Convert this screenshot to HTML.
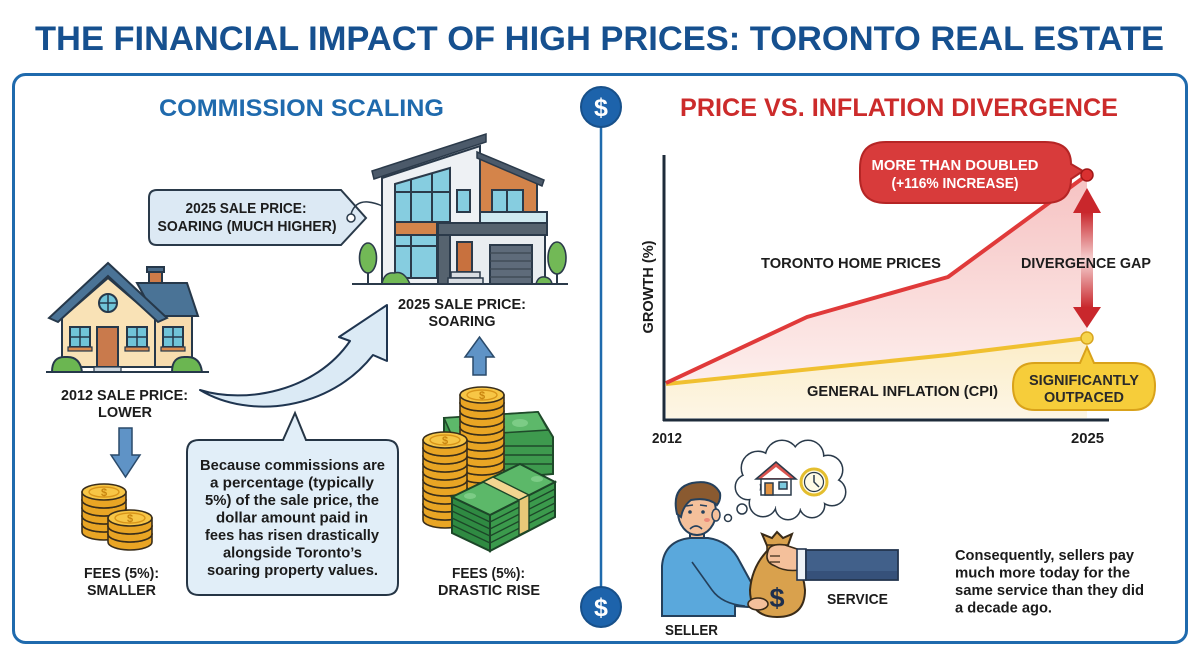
<!DOCTYPE html>
<html><head><meta charset="utf-8">
<style>
html,body{margin:0;padding:0;background:#fff;}
svg{display:block;}
text{font-family:"Liberation Sans",Arial,sans-serif;font-weight:bold;}
</style></head><body>
<svg width="1200" height="655" viewBox="0 0 1200 655" xmlns="http://www.w3.org/2000/svg">
<defs>
 <linearGradient id="pink" gradientUnits="userSpaceOnUse" x1="0" y1="175" x2="0" y2="390">
   <stop offset="0" stop-color="#f6c2c2"/><stop offset="1" stop-color="#fdf0ee"/>
 </linearGradient>
 <linearGradient id="beige" gradientUnits="userSpaceOnUse" x1="0" y1="340" x2="0" y2="420">
   <stop offset="0" stop-color="#fcedc8"/><stop offset="1" stop-color="#fdf6e6"/>
 </linearGradient>
 <linearGradient id="shaft" x1="0" y1="0" x2="0" y2="1">
   <stop offset="0" stop-color="#c8262b"/><stop offset="0.5" stop-color="#f6d3d3"/><stop offset="1" stop-color="#c8262b"/>
 </linearGradient>
 <g id="coin">
   <path d="M-22,0 V8 A22,8 0 0 0 22,8 V0 Z" fill="#e9a524" stroke="#3a2e1a" stroke-width="1.6"/>
   <ellipse cx="0" cy="0" rx="22" ry="8" fill="#f7c646" stroke="#3a2e1a" stroke-width="1.6"/>
 </g>
 <g id="topcoin">
   <use href="#coin"/>
   <ellipse cx="0" cy="0" rx="15" ry="5" fill="none" stroke="#d9951a" stroke-width="1.4"/>
   <text x="0" y="4" font-size="11" text-anchor="middle" fill="#c9850f">$</text>
 </g>
</defs>

<!-- Title -->
<text x="599.5" y="50" font-size="34" fill="#16508f" text-anchor="middle" textLength="1129" lengthAdjust="spacingAndGlyphs">THE FINANCIAL IMPACT OF HIGH PRICES: TORONTO REAL ESTATE</text>

<!-- Frame -->
<rect x="13.5" y="74.5" width="1173" height="568" rx="12" fill="#fff" stroke="#1f6aad" stroke-width="3"/>

<!-- Divider -->
<line x1="601" y1="127" x2="601" y2="587" stroke="#1f6aad" stroke-width="2.5"/>
<circle cx="601" cy="107" r="20" fill="#1d63ab" stroke="#17508a" stroke-width="2"/>
<text x="601" y="116" font-size="25" fill="#fff" text-anchor="middle">$</text>
<circle cx="601" cy="607" r="20" fill="#1d63ab" stroke="#17508a" stroke-width="2"/>
<text x="601" y="616" font-size="25" fill="#fff" text-anchor="middle">$</text>

<!-- LEFT PANEL -->
<text x="301.5" y="116" font-size="24" fill="#1f6aad" text-anchor="middle" textLength="285" lengthAdjust="spacingAndGlyphs">COMMISSION SCALING</text>

<!-- price tag -->
<path d="M157,190 H341 L366,218 L341,245 H157 Q149,245 149,237 V198 Q149,190 157,190 Z" fill="#dce9f4" stroke="#2a3a4a" stroke-width="2"/>
<circle cx="351" cy="218" r="4" fill="#fff" stroke="#2a3a4a" stroke-width="1.5"/>
<path d="M351,214 Q355,201 368,202 Q377,203 384,207" fill="none" stroke="#2a3a4a" stroke-width="1.5"/>
<text x="246" y="213" font-size="15" fill="#1c1c1c" text-anchor="middle" textLength="121" lengthAdjust="spacingAndGlyphs">2025 SALE PRICE:</text>
<text x="247" y="231" font-size="15" fill="#1c1c1c" text-anchor="middle" textLength="179" lengthAdjust="spacingAndGlyphs">SOARING (MUCH HIGHER)</text>

<!-- modern house -->
<g stroke="#2b3a4a" stroke-width="2">
 <line x1="368" y1="262" x2="368" y2="284"/>
 <ellipse cx="368" cy="258" rx="8.5" ry="15" fill="#72b956" stroke-width="1.6"/>
 <line x1="557" y1="262" x2="557" y2="284"/>
 <ellipse cx="557" cy="258" rx="9" ry="16" fill="#72b956" stroke-width="1.6"/>
 <polygon points="382,178 480,146 480,284 382,284" fill="#eef1f4"/>
 <polygon points="480,157 537,181 537,223 480,223" fill="#d4844a"/>
 <polygon points="477,152 544,180 542,186 477,158" fill="#4c5a6a" stroke-width="1.5"/>
 <polygon points="372,171 486,134 486,142 374,179" fill="#4c5a6a" stroke-width="1.5"/>
 <polygon points="395,184 450,168 450,222 395,222" fill="#86cde0"/>
 <line x1="411" y1="180" x2="411" y2="222"/>
 <line x1="432" y1="174" x2="432" y2="222"/>
 <line x1="395" y1="192" x2="450" y2="192"/>
 <rect x="395" y="222" width="42" height="13" fill="#d4844a"/>
 <rect x="395" y="235" width="42" height="43" fill="#86cde0"/>
 <line x1="411" y1="235" x2="411" y2="278"/>
 <line x1="395" y1="246" x2="437" y2="246"/>
 <rect x="457" y="190" width="13" height="22" fill="#86cde0"/>
 <rect x="492" y="190" width="31" height="32" fill="#86cde0"/>
 <line x1="507" y1="190" x2="507" y2="222"/>
 <rect x="480" y="212" width="67" height="11" fill="#cfe9f0"/>
 <rect x="438" y="223" width="109" height="12" fill="#56636f"/>
 <rect x="438" y="235" width="107" height="49" fill="#e9edf0"/>
 <rect x="438" y="235" width="12" height="49" fill="#56636f"/>
 <rect x="457" y="242" width="15" height="30" fill="#c8713e"/>
 <rect x="451" y="272" width="29" height="6" fill="#d8dde2" stroke-width="1.5"/>
 <rect x="448" y="278" width="35" height="6" fill="#d8dde2" stroke-width="1.5"/>
 <rect x="490" y="245" width="42" height="39" fill="#5e6b7a"/>
 <g stroke="#3c4752" stroke-width="1.2"><line x1="490" y1="253" x2="532" y2="253"/><line x1="490" y1="261" x2="532" y2="261"/><line x1="490" y1="269" x2="532" y2="269"/><line x1="490" y1="277" x2="532" y2="277"/></g>
 <path d="M382,284 Q384,272 394,273 Q404,270 410,284 Z" fill="#72b956" stroke-width="1.5"/>
 <path d="M536,284 Q538,276 545,277 Q551,278 552,284 Z" fill="#72b956" stroke-width="1.5"/>
 <line x1="352" y1="284" x2="568" y2="284"/>
</g>
<text x="462" y="309" font-size="15" fill="#1c1c1c" text-anchor="middle" textLength="128" lengthAdjust="spacingAndGlyphs">2025 SALE PRICE:</text>
<text x="462" y="326" font-size="15" fill="#1c1c1c" text-anchor="middle" textLength="67" lengthAdjust="spacingAndGlyphs">SOARING</text>

<!-- old house -->
<g stroke="#26384a" stroke-width="2">
 <rect x="149" y="271" width="13" height="16" fill="#cf7b48"/>
 <rect x="147" y="267" width="17" height="5" fill="#4a6a88"/>
 <polygon points="137,283 187,283 198,316 155,316" fill="#4a7396"/>
 <rect x="155" y="316" width="37" height="51" fill="#f7dcae"/>
 <polygon points="62,318 108,278 155,318 155,367 62,367" fill="#f9e2b6"/>
 <polygon points="49,318 108,263 167,318 158,322 108,276 58,322" fill="#4a7396"/>
 <circle cx="108" cy="303" r="9" fill="#70c4d8"/>
 <line x1="108" y1="294" x2="108" y2="312" stroke-width="1.5"/><line x1="99" y1="303" x2="117" y2="303" stroke-width="1.5"/>
 <rect x="97" y="327" width="21" height="40" fill="#c97a4c"/>
 <rect x="70" y="327" width="20" height="20" fill="#70c4d8"/>
 <rect x="127" y="327" width="20" height="20" fill="#70c4d8"/>
 <rect x="163" y="327" width="20" height="20" fill="#70c4d8"/>
 <g stroke-width="1.5"><line x1="80" y1="327" x2="80" y2="347"/><line x1="70" y1="337" x2="90" y2="337"/>
 <line x1="137" y1="327" x2="137" y2="347"/><line x1="127" y1="337" x2="147" y2="337"/>
 <line x1="173" y1="327" x2="173" y2="347"/><line x1="163" y1="337" x2="183" y2="337"/></g>
 <rect x="68" y="347" width="24" height="4" fill="#d98a4f" stroke-width="1.2"/>
 <rect x="125" y="347" width="24" height="4" fill="#d98a4f" stroke-width="1.2"/>
 <rect x="161" y="347" width="24" height="4" fill="#d98a4f" stroke-width="1.2"/>
 <path d="M52,372 Q52,356 66,357 Q80,356 82,372 Z" fill="#6bb651"/>
 <path d="M172,372 Q172,356 186,357 Q200,356 202,372 Z" fill="#6bb651"/>
 <rect x="94" y="367" width="27" height="5" fill="#cfd8e0" stroke-width="1.2"/>
 <line x1="46" y1="372" x2="209" y2="372"/>
</g>
<text x="124.5" y="400" font-size="15" fill="#1c1c1c" text-anchor="middle" textLength="127" lengthAdjust="spacingAndGlyphs">2012 SALE PRICE:</text>
<text x="125" y="417" font-size="15" fill="#1c1c1c" text-anchor="middle" textLength="54" lengthAdjust="spacingAndGlyphs">LOWER</text>

<!-- curved arrow -->
<path d="M200,390 C245,404 315,392 350,341 L339,337 L387,305 L387,361 L373,355 C330,410 250,420 200,390 Z" fill="#dbeaf5" stroke="#1f3550" stroke-width="2" stroke-linejoin="round"/>

<!-- down arrow -->
<polygon points="119,428 132,428 132,455 140,455 125.5,477 111,455 119,455" fill="#5f93c6" stroke="#2a4a6a" stroke-width="1.5"/>
<!-- up arrow -->
<polygon points="473,375 486,375 486,357 494,357 479.5,337 465,357 473,357" fill="#5f93c6" stroke="#2a4a6a" stroke-width="1.5"/>

<!-- small coins -->
<use href="#coin" x="104" y="524"/><use href="#coin" x="104" y="516"/><use href="#coin" x="104" y="508"/><use href="#coin" x="104" y="500"/><use href="#topcoin" x="104" y="492"/>
<use href="#coin" x="130" y="534"/><use href="#coin" x="130" y="526"/><use href="#topcoin" x="130" y="518"/>
<text x="121.5" y="578" font-size="15" fill="#1c1c1c" text-anchor="middle" textLength="75" lengthAdjust="spacingAndGlyphs">FEES (5%):</text>
<text x="121.5" y="595" font-size="15" fill="#1c1c1c" text-anchor="middle" textLength="69" lengthAdjust="spacingAndGlyphs">SMALLER</text>

<!-- speech bubble -->
<path d="M199,440 H283 L295,413 L306,440 H386 Q398,440 398,452 V583 Q398,595 386,595 H199 Q187,595 187,583 V452 Q187,440 199,440 Z" fill="#e1eef8" stroke="#253545" stroke-width="2"/>
<g font-size="15" fill="#1b1b1b" text-anchor="middle">
<text x="292.5" y="470" textLength="185" lengthAdjust="spacingAndGlyphs">Because commissions are</text>
<text x="292" y="487.5" textLength="164" lengthAdjust="spacingAndGlyphs">a percentage (typically</text>
<text x="292" y="505" textLength="174" lengthAdjust="spacingAndGlyphs">5%) of the sale price, the</text>
<text x="292" y="522.5" textLength="152" lengthAdjust="spacingAndGlyphs">dollar amount paid in</text>
<text x="292" y="540" textLength="174" lengthAdjust="spacingAndGlyphs">fees has risen drastically</text>
<text x="292.5" y="557.5" textLength="139" lengthAdjust="spacingAndGlyphs">alongside Toronto’s</text>
<text x="292.5" y="575" textLength="171" lengthAdjust="spacingAndGlyphs">soaring property values.</text>
</g>

<!-- big money -->
<polygon points="444,418 538,412 553,437 553,474 507,478 462,478 444,445" fill="#3e9a4e" stroke="#1f4a2a" stroke-width="2"/>
<polygon points="444,418 538,412 548,430 452,436" fill="#5db86a" stroke="#1f4a2a" stroke-width="1.6"/>
<ellipse cx="520" cy="423" rx="8" ry="4" fill="#7ccc86"/>
<g stroke="#1f4a2a" stroke-width="1.4"><line x1="505" y1="446" x2="553" y2="446"/><line x1="505" y1="455" x2="553" y2="455"/><line x1="505" y1="464" x2="553" y2="464"/></g>
<use href="#coin" x="482" y="491"/><use href="#coin" x="482" y="483"/><use href="#coin" x="482" y="475"/><use href="#coin" x="482" y="467"/><use href="#coin" x="482" y="459"/><use href="#coin" x="482" y="451"/><use href="#coin" x="482" y="443"/><use href="#coin" x="482" y="435"/><use href="#coin" x="482" y="427"/><use href="#coin" x="482" y="419"/><use href="#coin" x="482" y="411"/><use href="#coin" x="482" y="403"/><use href="#topcoin" x="482" y="395"/>
<use href="#coin" x="445" y="512"/><use href="#coin" x="445" y="504"/><use href="#coin" x="445" y="496"/><use href="#coin" x="445" y="488"/><use href="#coin" x="445" y="480"/><use href="#coin" x="445" y="472"/><use href="#coin" x="445" y="464"/><use href="#coin" x="445" y="456"/><use href="#coin" x="445" y="448"/><use href="#topcoin" x="445" y="440"/>
<g stroke="#1c4628" stroke-width="2">
<polygon points="452,497 490,515 490,551 452,533" fill="#2f8a42"/>
<polygon points="490,515 555,482 555,517 490,551" fill="#3b9a4c"/>
<g stroke-width="1.3"><line x1="452" y1="504" x2="490" y2="522"/><line x1="452" y1="511" x2="490" y2="529"/><line x1="452" y1="518" x2="490" y2="536"/><line x1="452" y1="525" x2="490" y2="543"/>
<line x1="490" y1="522" x2="555" y2="489"/><line x1="490" y1="529" x2="555" y2="496"/><line x1="490" y1="536" x2="555" y2="503"/><line x1="490" y1="543" x2="555" y2="510"/></g>
<polygon points="452,497 520,464 555,482 490,515" fill="#5cb869"/>
<polygon points="483,482 493,477 529,495 519,500" fill="#f2d590" stroke-width="1.4"/>
<polygon points="519,500 529,495 529,530 519,535" fill="#e8c878" stroke-width="1.4"/>
</g>
<ellipse cx="470" cy="496" rx="6" ry="3" fill="#7ccc86"/><ellipse cx="537" cy="479" rx="6" ry="3" fill="#7ccc86"/>
<text x="488.5" y="578" font-size="15" fill="#1c1c1c" text-anchor="middle" textLength="73" lengthAdjust="spacingAndGlyphs">FEES (5%):</text>
<text x="489" y="595" font-size="15" fill="#1c1c1c" text-anchor="middle" textLength="102" lengthAdjust="spacingAndGlyphs">DRASTIC RISE</text>

<!-- RIGHT PANEL -->
<text x="899" y="116" font-size="25" fill="#cc2b2b" text-anchor="middle" textLength="438" lengthAdjust="spacingAndGlyphs">PRICE VS. INFLATION DIVERGENCE</text>

<!-- areas -->
<polygon points="666,383 807,317 948,277 1087,175 1087,338 948,355 666,384" fill="url(#pink)"/>
<polygon points="666,384 948,355 1087,338 1087,418 666,418" fill="url(#beige)"/>

<!-- axes -->
<line x1="664" y1="155" x2="664" y2="421" stroke="#1e2b3a" stroke-width="3"/>
<line x1="663" y1="420" x2="1109" y2="420" stroke="#1e2b3a" stroke-width="3"/>

<!-- lines -->
<polyline points="666,384 948,355 1087,338" fill="none" stroke="#f0c030" stroke-width="4" stroke-linejoin="round"/>
<polyline points="666,383 807,317 948,277 1087,175" fill="none" stroke="#e03a3a" stroke-width="4" stroke-linejoin="round"/>

<!-- red bubble -->
<path d="M886,142 H1045 Q1071,142 1071,164 L1083,171 L1071,179 Q1071,203 1045,203 H886 Q860,203 860,177 V168 Q860,142 886,142 Z" fill="#d83b3b" stroke="#b52525" stroke-width="2"/>
<text x="955" y="170" font-size="15" fill="#fff" text-anchor="middle" textLength="167" lengthAdjust="spacingAndGlyphs">MORE THAN DOUBLED</text>
<text x="955" y="188" font-size="15" fill="#fff" text-anchor="middle" textLength="127" lengthAdjust="spacingAndGlyphs">(+116% INCREASE)</text>
<circle cx="1087" cy="175" r="6" fill="#d93030" stroke="#a01818" stroke-width="1.5"/>

<!-- double arrow -->
<rect x="1081" y="212" width="12" height="96" fill="url(#shaft)"/>
<polygon points="1087,188 1101,213 1073,213" fill="#c9272c"/>
<polygon points="1073,307 1101,307 1087,328" fill="#c9272c"/>

<!-- yellow pill -->
<path d="M1035,363 H1080 L1087,347 L1094,363 H1133 Q1155,363 1155,386 Q1155,410 1133,410 H1035 Q1013,410 1013,386 Q1013,363 1035,363 Z" fill="#f6cd3a" stroke="#d9a21a" stroke-width="2"/>
<circle cx="1087" cy="338" r="6" fill="#f6d44c" stroke="#d8a520" stroke-width="1.5"/>
<text x="1084" y="385" font-size="15" fill="#2a2a2a" text-anchor="middle" textLength="110" lengthAdjust="spacingAndGlyphs">SIGNIFICANTLY</text>
<text x="1084" y="402" font-size="15" fill="#2a2a2a" text-anchor="middle" textLength="80" lengthAdjust="spacingAndGlyphs">OUTPACED</text>

<text x="851" y="268" font-size="15" fill="#1c1c1c" text-anchor="middle" textLength="180" lengthAdjust="spacingAndGlyphs">TORONTO HOME PRICES</text>
<text x="1086" y="268" font-size="15" fill="#1c1c1c" text-anchor="middle" textLength="130" lengthAdjust="spacingAndGlyphs">DIVERGENCE GAP</text>
<text x="902.5" y="396" font-size="15" fill="#1c1c1c" text-anchor="middle" textLength="191" lengthAdjust="spacingAndGlyphs">GENERAL INFLATION (CPI)</text>
<text x="653" y="287" font-size="15" fill="#1c1c1c" text-anchor="middle" transform="rotate(-90 653 287)" textLength="93" lengthAdjust="spacingAndGlyphs">GROWTH (%)</text>
<text x="667" y="443" font-size="15" fill="#1c1c1c" text-anchor="middle" textLength="30" lengthAdjust="spacingAndGlyphs">2012</text>
<text x="1087.5" y="443" font-size="15" fill="#1c1c1c" text-anchor="middle" textLength="33" lengthAdjust="spacingAndGlyphs">2025</text>

<!-- cloud -->
<g fill="#fff" stroke="#2a3a4a" stroke-width="3">
<circle cx="758" cy="468" r="16"/><circle cx="782" cy="457" r="16"/><circle cx="808" cy="456" r="15"/><circle cx="828" cy="470" r="14"/><circle cx="832" cy="492" r="13"/><circle cx="812" cy="505" r="12"/><circle cx="788" cy="507" r="12"/><circle cx="763" cy="503" r="13"/><circle cx="748" cy="487" r="12"/>
</g>
<g fill="#fff">
<circle cx="758" cy="468" r="16"/><circle cx="782" cy="457" r="16"/><circle cx="808" cy="456" r="15"/><circle cx="828" cy="470" r="14"/><circle cx="832" cy="492" r="13"/><circle cx="812" cy="505" r="12"/><circle cx="788" cy="507" r="12"/><circle cx="763" cy="503" r="13"/><circle cx="748" cy="487" r="12"/><circle cx="790" cy="482" r="28"/>
</g>
<circle cx="742" cy="509" r="5" fill="#fff" stroke="#2a3a4a" stroke-width="1.5"/>
<circle cx="728" cy="518" r="3.5" fill="#fff" stroke="#2a3a4a" stroke-width="1.5"/>
<g stroke="#2a3a4a" stroke-width="1.5">
<rect x="761" y="477" width="30" height="18" fill="#fff"/>
<polygon points="756,479 776,462 796,479" fill="#d9534f"/>
<polygon points="762,478 776,467 790,478" fill="#fff" stroke="none"/>
<rect x="765" y="483" width="8" height="12" fill="#e0913f"/>
<rect x="779" y="482" width="8" height="7" fill="#7ccbe0"/>
</g>
<circle cx="814" cy="482" r="13" fill="#fffbe6" stroke="#e4be2e" stroke-width="3"/>
<circle cx="814" cy="482" r="9.5" fill="none" stroke="#2a3a4a" stroke-width="1.2"/>
<path d="M814,475 V482 L819,487" fill="none" stroke="#2a3a4a" stroke-width="1.5"/>

<!-- person -->
<g stroke="#24405c" stroke-width="2">
<rect x="690" y="528" width="14" height="13" fill="#f4c09b"/>
<path d="M662,616 V566 Q664,541 690,538 H708 Q730,541 740,562 L758,595 Q760,606 748,607 L735,606 V616 Z" fill="#5aa8dc"/>
<path d="M692,562 L712,590 Q722,604 745,606" fill="none" stroke-width="1.6"/>
<ellipse cx="697" cy="512" rx="19" ry="23" fill="#f4c09b"/>
<ellipse cx="716" cy="515" rx="4" ry="6" fill="#f4c09b" stroke-width="1.5"/>
<path d="M677,514 Q671,488 692,483 Q713,479 720,493 Q721,500 717,505 Q708,497 691,500 Q683,506 681,517 Z" fill="#8a5a30"/>
</g>
<circle cx="690" cy="512" r="1.8" fill="#24405c"/><circle cx="703" cy="512" r="1.8" fill="#24405c"/>
<path d="M686,506 L693,505 M700,505 L707,506" stroke="#24405c" stroke-width="1.4"/>
<ellipse cx="707" cy="520" rx="3" ry="2" fill="#ec8a7a"/>
<path d="M690,529 Q696,523 702,529" fill="none" stroke="#24405c" stroke-width="1.6"/>

<!-- bag -->
<g stroke="#3a2b18" stroke-width="2">
<path d="M770,548 Q752,565 750,590 Q750,617 777,617 Q805,617 805,590 Q803,565 785,548 Z" fill="#d9a14d"/>
<path d="M768,548 L762,534 L772,538 L777,532 L783,538 L792,534 L787,548 Z" fill="#d9a14d"/>
<rect x="767" y="545" width="21" height="5" fill="#b98434" stroke-width="1.5"/>
</g>
<text x="777" y="607" font-size="27" fill="#1e2f4d" text-anchor="middle">$</text>
<g stroke="#3a2b18" stroke-width="1.6">
<ellipse cx="758" cy="604" rx="10" ry="6" fill="#f4c09b"/>
<path d="M768,551 Q770,543 785,545 L800,550 L800,570 Q785,572 775,566 Q764,562 768,551 Z" fill="#f4c09b"/>
<path d="M770,556 H780 M770,562 H780" fill="none" stroke-width="1.2"/>
</g>
<rect x="797" y="549" width="9" height="31" fill="#eef2f6" stroke="#23354e" stroke-width="1.6"/>
<rect x="806" y="550" width="92" height="30" fill="#41608a" stroke="#23354e" stroke-width="1.8"/>
<rect x="807" y="571" width="90" height="8" fill="#36517a"/>

<text x="857.5" y="604" font-size="15" fill="#1c1c1c" text-anchor="middle" textLength="61" lengthAdjust="spacingAndGlyphs">SERVICE</text>
<text x="691.5" y="635" font-size="15" fill="#1c1c1c" text-anchor="middle" textLength="53" lengthAdjust="spacingAndGlyphs">SELLER</text>

<g font-size="15" fill="#1b1b1b">
<text x="955" y="560" textLength="179" lengthAdjust="spacingAndGlyphs">Consequently, sellers pay</text>
<text x="955" y="577.5" textLength="175" lengthAdjust="spacingAndGlyphs">much more today for the</text>
<text x="955" y="595" textLength="189" lengthAdjust="spacingAndGlyphs">same service than they did</text>
<text x="955" y="612.5" textLength="97" lengthAdjust="spacingAndGlyphs">a decade ago.</text>
</g>
</svg>
</body></html>
